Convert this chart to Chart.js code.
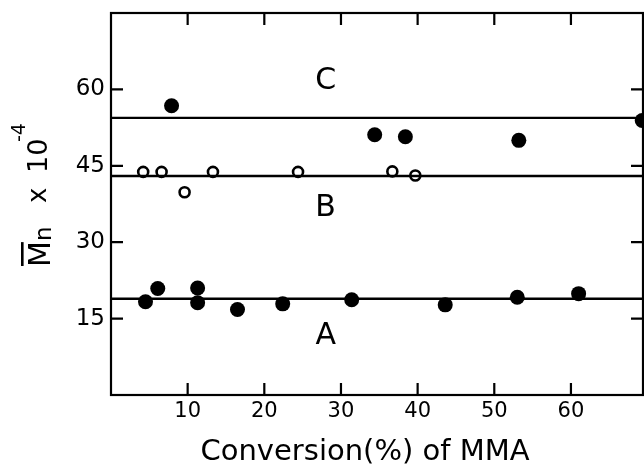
<!DOCTYPE html>
<html>
<head>
<meta charset="utf-8">
<script src="https://cdn.jsdelivr.net/npm/chart.js@4.4.1/dist/chart.umd.min.js"></script>
<style>
  html, body { margin: 0; padding: 0; background: #fff; }
  #wrap { width: 644px; height: 465px; }
</style>
</head>
<body>
<div id="wrap"><canvas id="mnChart"></canvas></div>
<script>
// series C (filled), B (open), A (filled): conversion % vs Mn x 10^-4
const convC = [7.9, 34.4, 38.4, 53.2, 69.3];
const mnC = [56.8, 51.1, 50.7, 50.0, 53.9];
const convB = [4.2, 6.6, 9.6, 13.3, 24.4, 36.7, 39.7];
const mnB = [43.8, 43.8, 39.8, 43.8, 43.8, 43.9, 43.1];
const convA = [4.5, 6.1, 11.3, 11.3, 16.5, 22.4, 31.4, 43.6, 53.0, 61.0];
const mnA = [18.3, 20.9, 21.0, 18.1, 16.8, 17.9, 18.7, 17.7, 19.2, 19.9];
// horizontal average lines
const lineNames = ['A', 'B', 'C'];
const lineLevels = [18.9, 43.0, 54.4];
const labelPos = [[28.0, 10.1], [28.0, 35.2], [28.0, 60.1]];
const xTicks = [10, 20, 30, 40, 50, 60];
const yTicks = [15, 30, 45, 60];
const xMax = 69.4, yMax = 75;
const xTitle = 'Conversion(%) of MMA';

const pts = (xs, ys) => xs.map((x, i) => ({x: x, y: ys[i]}));

const datasets = lineLevels.map((v, i) => ({
  type: 'line',
  label: 'line ' + lineNames[i],
  data: [{x: 0, y: v}, {x: xMax, y: v}],
  borderColor: '#000',
  borderWidth: 2.4,
  pointRadius: 0
}));
datasets.push(
  {label: 'C', data: pts(convC, mnC), backgroundColor: '#000', borderColor: '#000', pointRadius: 7.5, borderWidth: 0, clip: false},
  {label: 'B', data: pts(convB, mnB), backgroundColor: '#fff', borderColor: '#000', pointRadius: 5, borderWidth: 2.6},
  {label: 'A', data: pts(convA, mnA), backgroundColor: '#000', borderColor: '#000', pointRadius: 7.5, borderWidth: 0}
);

const FONT = '"DejaVu Sans"';

const framePlugin = {
  id: 'frame',
  afterDraw(chart) {
    const {ctx, chartArea: a, scales: {x, y}} = chart;
    ctx.save();
    ctx.strokeStyle = '#000';
    ctx.lineWidth = 2.2;
    ctx.strokeRect(a.left, a.top, a.right - a.left, a.bottom - a.top);
    const tl = 12;
    ctx.beginPath();
    xTicks.forEach(t => {
      const px = x.getPixelForValue(t);
      ctx.moveTo(px, a.bottom); ctx.lineTo(px, a.bottom - tl);
      ctx.moveTo(px, a.top); ctx.lineTo(px, a.top + tl);
    });
    yTicks.forEach(t => {
      const py = y.getPixelForValue(t);
      ctx.moveTo(a.left, py); ctx.lineTo(a.left + tl, py);
      ctx.moveTo(a.right, py); ctx.lineTo(a.right - tl, py);
    });
    ctx.stroke();

    ctx.fillStyle = '#000';
    ctx.textAlign = 'center';
    ctx.textBaseline = 'alphabetic';
    ctx.font = '30px ' + FONT;
    lineNames.forEach((n, i) => {
      ctx.fillText(n, x.getPixelForValue(labelPos[i][0]), y.getPixelForValue(labelPos[i][1]));
    });

    // x title
    ctx.font = '29px ' + FONT;
    ctx.fillText(xTitle, 365, 460);

    // y title: M-bar, n, x 10^-4 (rotated)
    ctx.translate(50, 267);
    ctx.rotate(-Math.PI / 2);
    ctx.textAlign = 'left';
    ctx.font = '30px ' + FONT;
    ctx.fillText('M', 0, 0);
    const wM = ctx.measureText('M').width;
    ctx.fillRect(1, -29, wM - 2, 2.6);
    ctx.font = '23px ' + FONT;
    ctx.fillText('n', 26, 1);
    ctx.font = '26px ' + FONT;
    ctx.fillText('x', 64, -4);
    ctx.font = '27px ' + FONT;
    ctx.fillText('10', 94, -3);
    ctx.font = '19px ' + FONT;
    ctx.fillText('-4', 125, -25);
    ctx.restore();
  }
};

new Chart(document.getElementById('mnChart'), {
  type: 'scatter',
  data: {datasets: datasets},
  plugins: [framePlugin],
  options: {
    responsive: true,
    maintainAspectRatio: false,
    animation: false,
    layout: {autoPadding: false, padding: {top: 13, right: 1, left: 0, bottom: 0}},
    plugins: {legend: {display: false}, tooltip: {enabled: false}},
    scales: {
      x: {
        type: 'linear',
        min: 0,
        max: xMax,
        afterFit: s => { s.height = 70; s.paddingLeft = 0; s.paddingRight = 0; },
        grid: {display: false, drawTicks: false},
        border: {display: false},
        ticks: {
          stepSize: 10,
          includeBounds: false,
          padding: 4,
          autoSkip: false,
          maxRotation: 0,
          color: '#000',
          font: {family: 'DejaVu Sans', size: 21},
          callback: v => xTicks.includes(v) ? String(v) : ''
        }
      },
      y: {
        min: 0,
        max: yMax,
        afterFit: s => { s.width = 111; s.paddingTop = 0; s.paddingBottom = 0; },
        grid: {display: false, drawTicks: false},
        border: {display: false},
        ticks: {
          stepSize: 15,
          padding: 6,
          autoSkip: false,
          color: '#000',
          font: {family: 'DejaVu Sans', size: 23},
          callback: v => yTicks.includes(v) ? String(v) : ''
        }
      }
    }
  }
});
</script>
</body>
</html>
